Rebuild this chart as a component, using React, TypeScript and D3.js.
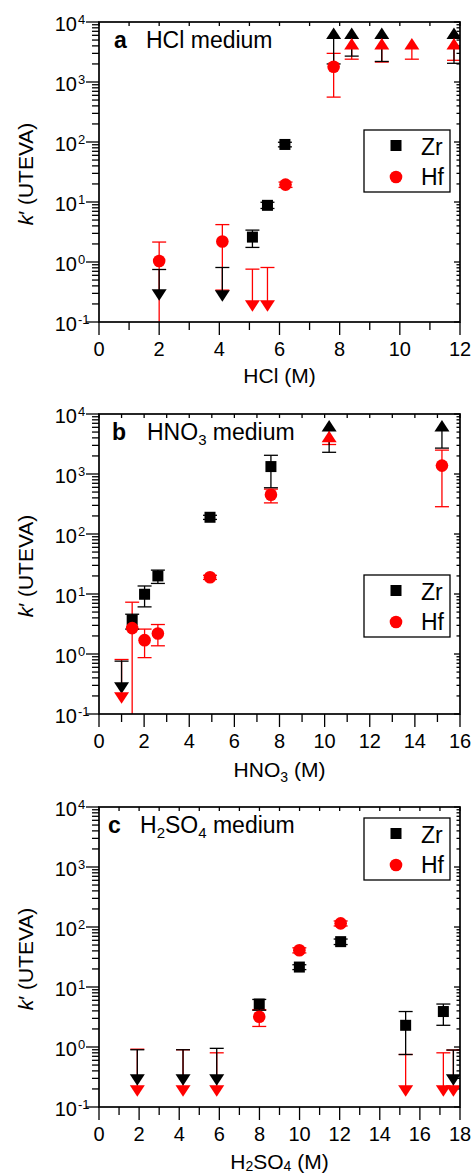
import * as d3 from "d3";
import React from "react";

// k' values; lim "up" = lower limit (up triangle), "down" = upper limit (down triangle)
type Pt = { x: number; k: number; lo?: number; hi?: number; lim?: "up" | "down" };

const hclZr: Pt[] = [
  { x: 2.0, k: 0.29, hi: 0.75, lim: "down" },
  { x: 4.1, k: 0.28, hi: 0.81, lim: "down" },
  { x: 5.1, k: 2.6, lo: 1.75, hi: 3.4 },
  { x: 5.6, k: 8.8, lo: 7.8, hi: 9.9 },
  { x: 6.18, k: 91, lo: 83, hi: 99 },
  { x: 7.8, k: 6300, lo: 2000, lim: "up" },
  { x: 8.4, k: 6300, lo: 2700, lim: "up" },
  { x: 9.4, k: 6300, lo: 2200, lim: "up" },
  { x: 11.8, k: 6300, lo: 2050, lim: "up" },
];
const hclHf: Pt[] = [
  { x: 2.0, k: 1.04, lo: 0.05, hi: 2.15 },
  { x: 4.1, k: 2.2, lo: 0.34, hi: 4.2 },
  { x: 5.1, k: 0.19, hi: 0.76, lim: "down" },
  { x: 5.6, k: 0.19, hi: 0.81, lim: "down" },
  { x: 6.2, k: 19.5, lo: 17.5, hi: 21.5 },
  { x: 7.8, k: 1800, lo: 560, hi: 3000 },
  { x: 8.4, k: 4200, lo: 2400, lim: "up" },
  { x: 9.4, k: 4200, lo: 2150, lim: "up" },
  { x: 10.4, k: 4200, lo: 2400, lim: "up" },
  { x: 11.8, k: 4200, lo: 2300, lim: "up" },
];

const hno3Zr: Pt[] = [
  { x: 1.0, k: 0.28, hi: 0.76, lim: "down" },
  { x: 1.47, k: 3.7, lo: 2.6, hi: 4.6 },
  { x: 2.02, k: 9.9, lo: 6.1, hi: 13.6 },
  { x: 2.61, k: 20, lo: 15, hi: 25 },
  { x: 4.92, k: 190, lo: 175, hi: 205 },
  { x: 7.62, k: 1330, lo: 590, hi: 2050 },
  { x: 10.2, k: 6200, lo: 2300, lim: "up" },
  { x: 15.2, k: 6200, lo: 2700, lim: "up" },
];
const hno3Hf: Pt[] = [
  { x: 1.0, k: 0.19, hi: 0.81, lim: "down" },
  { x: 1.47, k: 2.7, lo: 0.05, hi: 7.3 },
  { x: 2.02, k: 1.7, lo: 0.87, hi: 2.6 },
  { x: 2.61, k: 2.2, lo: 1.37, hi: 3.1 },
  { x: 4.92, k: 19, lo: 17.5, hi: 20.5 },
  { x: 7.62, k: 450, lo: 330, hi: 560 },
  { x: 10.2, k: 4100, lo: 3100, lim: "up" },
  { x: 15.2, k: 1380, lo: 285, hi: 2500 },
];

const h2so4Zr: Pt[] = [
  { x: 1.91, k: 0.29, hi: 0.9, lim: "down" },
  { x: 4.19, k: 0.29, hi: 0.9, lim: "down" },
  { x: 5.87, k: 0.29, hi: 0.95, lim: "down" },
  { x: 7.99, k: 5.2, lo: 4.1, hi: 6.2 },
  { x: 9.99, k: 21.5, lo: 19.5, hi: 23.5 },
  { x: 12.05, k: 57, lo: 51, hi: 63 },
  { x: 15.29, k: 2.3, lo: 0.75, hi: 3.9 },
  { x: 17.17, k: 3.9, lo: 2.3, hi: 5.2 },
  { x: 17.67, k: 0.29, hi: 0.89, lim: "down" },
];
const h2so4Hf: Pt[] = [
  { x: 1.91, k: 0.19, hi: 0.92, lim: "down" },
  { x: 4.19, k: 0.19, hi: 0.9, lim: "down" },
  { x: 5.87, k: 0.19, hi: 0.8, lim: "down" },
  { x: 7.99, k: 3.2, lo: 2.2, hi: 4.2 },
  { x: 9.99, k: 41, lo: 37, hi: 45 },
  { x: 12.05, k: 115, lo: 104, hi: 126 },
  { x: 15.29, k: 0.19, hi: 0.75, lim: "down" },
  { x: 17.17, k: 0.19, hi: 0.8, lim: "down" },
  { x: 17.67, k: 0.19, hi: 0.89, lim: "down" },
];

const yExps = [-1, 0, 1, 2, 3, 4];
const seriesNames = ["Zr", "Hf"];

const font = "'Liberation Sans', Arial, Helvetica, sans-serif";
const L = 99;
const R = 460;
const PH = 300;
const RED = "#ff0000";

function marker(kind: string, cx: number, cy: number, color: string, key: any) {
  if (kind === "square") return <rect key={key} x={cx - 5.5} y={cy - 5.5} width={11} height={11} fill={color} />;
  if (kind === "circle") return <circle key={key} cx={cx} cy={cy} r={6.3} fill={color} />;
  if (kind === "up")
    return <path key={key} d={`M${cx},${cy - 6.5}L${cx + 7.5},${cy + 5}L${cx - 7.5},${cy + 5}Z`} fill={color} />;
  return <path key={key} d={`M${cx},${cy + 6.5}L${cx + 7.5},${cy - 5}L${cx - 7.5},${cy - 5}Z`} fill={color} />;
}

function Panel(props: any) {
  const { top, xMax, zr, hf, letter, label, xTitle, legendTop, titleDy, id, lx, tx } = props;
  const bottom = top + PH;
  const x = d3.scaleLinear().domain([0, xMax]).range([L, R]);
  const y = d3.scaleLog().domain([0.1, 1e4]).range([bottom, top]);

  const xTicks = d3.range(0, xMax + 1);
  const minors: number[] = [];
  yExps.slice(0, -1).forEach((e) => {
    for (let m = 2; m < 10; m++) minors.push(m * Math.pow(10, e));
  });

  const bars = (data: Pt[], color: string, sid: string) =>
    data.map((d, i) => {
      const cx = x(d.x);
      const lo = d.lo ?? d.k;
      const hi = d.hi ?? d.k;
      const caps: number[] = [];
      if (d.lo !== undefined && d.lo >= 0.1) caps.push(y(d.lo));
      if (d.hi !== undefined) caps.push(y(d.hi));
      return (
        <g key={sid + i} stroke={color} strokeWidth={1.3}>
          <line x1={cx} x2={cx} y1={y(Math.max(lo, 0.02))} y2={y(hi)} />
          {caps.map((cy, j) => (
            <line key={j} x1={cx - 7} x2={cx + 7} y1={cy} y2={cy} />
          ))}
        </g>
      );
    });

  const marks = (data: Pt[], color: string, base: string, sid: string) =>
    data.map((d, i) => marker(d.lim ?? base, x(d.x), y(d.k), color, sid + i));

  return (
    <g>
      <defs>
        <clipPath id={id}>
          <rect x={L} y={top} width={R - L} height={PH} />
        </clipPath>
      </defs>

      {/* ticks */}
      <g stroke="#000" strokeWidth={1.3}>
        {xTicks.map((t) => {
          const major = t % 2 === 0;
          return (
            <g key={"xt" + t}>
              <line x1={x(t)} x2={x(t)} y1={bottom} y2={bottom + (major ? 13 : 8)} />
              <line x1={x(t)} x2={x(t)} y1={top} y2={top + 4} />
            </g>
          );
        })}
        {yExps.map((e) => (
          <g key={"ye" + e}>
            <line x1={L - 13} x2={L} y1={y(Math.pow(10, e))} y2={y(Math.pow(10, e))} />
            <line x1={R - 6} x2={R} y1={y(Math.pow(10, e))} y2={y(Math.pow(10, e))} />
          </g>
        ))}
        {minors.map((v, i) => (
          <g key={"ym" + i}>
            <line x1={L - 7} x2={L} y1={y(v)} y2={y(v)} />
            <line x1={R - 3.5} x2={R} y1={y(v)} y2={y(v)} />
          </g>
        ))}
      </g>

      {/* tick labels */}
      <g fontSize={20} fill="#000">
        {xTicks
          .filter((t) => t % 2 === 0)
          .map((t) => (
            <text key={"xl" + t} x={x(t)} y={bottom + 34} textAnchor="middle">
              {t}
            </text>
          ))}
        {yExps.map((e) => {
          const ty = y(Math.pow(10, e));
          return (
            <g key={"yl" + e}>
              <text x={77} y={ty + 9} textAnchor="end">
                10
              </text>
              <text x={78} y={ty + 2} fontSize={13}>
                {e < 0 ? "-" + Math.abs(e) : e}
              </text>
            </g>
          );
        })}
      </g>

      {/* data */}
      <g clipPath={`url(#${id})`}>
        {bars(hf, RED, "hb")}
        {bars(zr, "#000", "zb")}
        {marks(zr, "#000", "square", "zm")}
        {marks(hf, RED, "circle", "hm")}
      </g>

      {/* frame */}
      <rect x={L} y={top} width={R - L} height={PH} fill="none" stroke="#000" strokeWidth={1.7} />

      {/* panel label */}
      <text x={lx} y={top + 26} fontSize={23} fontWeight="bold">
        {letter}
      </text>
      <text x={tx} y={top + 26} fontSize={23}>
        {label}
      </text>

      {/* legend */}
      <rect x={364} y={top + legendTop} width={86} height={62} fill="#fff" stroke="#000" strokeWidth={1.3} />
      {seriesNames.map((s, i) => (
        <g key={s}>
          {marker(i === 0 ? "square" : "circle", 396, top + legendTop + 15.5 + i * 31.5, i === 0 ? "#000" : RED, s)}
          <text x={421} y={top + legendTop + 25 + i * 30} fontSize={23}>
            {s}
          </text>
        </g>
      ))}

      {/* axis titles */}
      <text x={(L + R) / 2} y={bottom + titleDy} textAnchor="middle" fontSize={21}>
        {xTitle}
      </text>
      <text transform={`translate(33,${top + PH / 2 + 2}) rotate(-90)`} textAnchor="middle" fontSize={21}>
        <tspan fontStyle="italic">k</tspan>
        {"\u2032 (UTEVA)"}
      </text>
    </g>
  );
}

export default function App() {
  return (
    <svg
      width={472}
      height={1175}
      style={{ position: "absolute", left: 0, top: 0, background: "#fff" }}
      fontFamily={font}
    >
      <Panel
        id="clipA"
        top={22}
        xMax={12}
        zr={hclZr}
        hf={hclHf}
        letter="a"
        label="HCl medium"
        xTitle="HCl (M)"
        legendTop={108}
        titleDy={61}
        lx={114}
        tx={146}
      />
      <Panel
        id="clipB"
        top={414}
        xMax={16}
        zr={hno3Zr}
        hf={hno3Hf}
        letter="b"
        label={
          <>
            HNO<tspan fontSize={15} dy={5}>3</tspan>
            <tspan dy={-5}> medium</tspan>
          </>
        }
        xTitle={
          <>
            HNO<tspan fontSize={14} dy={5}>3</tspan>
            <tspan dy={-5}> (M)</tspan>
          </>
        }
        legendTop={161}
        titleDy={63}
        lx={112}
        tx={147}
      />
      <Panel
        id="clipC"
        top={807}
        xMax={18}
        zr={h2so4Zr}
        hf={h2so4Hf}
        letter="c"
        label={
          <>
            H<tspan fontSize={15} dy={5}>2</tspan>
            <tspan dy={-5}>SO</tspan>
            <tspan fontSize={15} dy={5}>4</tspan>
            <tspan dy={-5}> medium</tspan>
          </>
        }
        xTitle={
          <>
            H<tspan fontSize={14} dy={2}>2</tspan>
            <tspan dy={-2}>SO</tspan>
            <tspan fontSize={14} dy={2}>4</tspan>
            <tspan dy={-2}> (M)</tspan>
          </>
        }
        legendTop={11}
        titleDy={62}
        lx={108}
        tx={140}
      />
    </svg>
  );
}
